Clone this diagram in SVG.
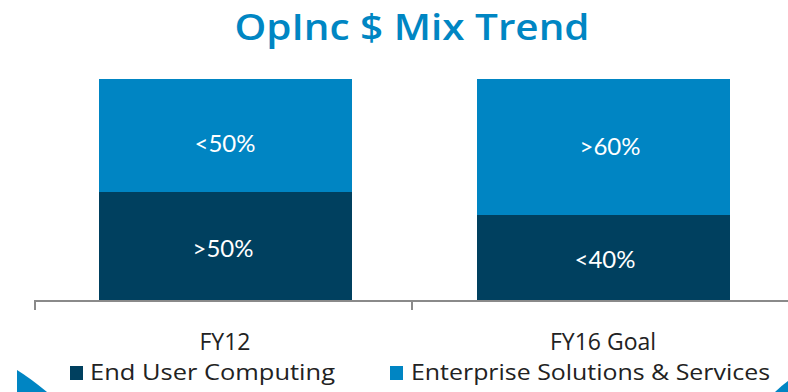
<svg xmlns="http://www.w3.org/2000/svg" width="788" height="392" viewBox="0 0 788 392">
<style>
.light{fill:#0085C3}
.dark{fill:#00405F}
.val{font-family:Lato,"Open Sans",sans-serif;font-size:24px;fill:#ffffff;text-anchor:middle}
.cat{font-family:"Open Sans",Lato,sans-serif;font-size:23px;fill:#222;text-anchor:middle}
.leg{font-family:"Open Sans",Lato,sans-serif;font-size:21px;fill:#222}
.axis{stroke:#8a8a8a;stroke-width:2;fill:none}
</style>
<rect width="788" height="392" fill="#ffffff"/>
<text x="412" y="40" font-family="'Open Sans',Lato,sans-serif" font-size="36" font-weight="600" fill="#0086C3" text-anchor="middle" textLength="355" lengthAdjust="spacingAndGlyphs">OpInc $ Mix Trend</text>
<g id="bar-fy12">
<rect class="light" x="99" y="79" width="253" height="113"/>
<rect class="dark" x="99" y="192" width="253" height="109"/>
<text class="val" x="225" y="152">&lt;50%</text>
<text class="val" x="223" y="257">&gt;50%</text>
</g>
<g id="bar-fy16">
<rect class="light" x="477" y="79" width="253" height="136"/>
<rect class="dark" x="477" y="215" width="253" height="86"/>
<text class="val" x="610" y="155">&gt;60%</text>
<text class="val" x="605" y="268">&lt;40%</text>
</g>
<g id="axis">
<path class="axis" d="M35,301 H788 M35,300 V310 M412,300 V310"/>
</g>
<g id="labels">
<text class="cat" x="225" y="350">FY12</text>
<text class="cat" x="603" y="350">FY16 Goal</text>
</g>
<g id="legend">
<rect class="dark" x="70" y="366" width="13" height="14"/>
<text class="leg" x="90" y="380" textLength="245" lengthAdjust="spacingAndGlyphs">End User Computing</text>
<rect class="light" x="390" y="366" width="13" height="14"/>
<text class="leg" x="411" y="380" textLength="359" lengthAdjust="spacingAndGlyphs">Enterprise Solutions &amp; Services</text>
</g>
<g id="corners">
<path class="light" d="M17,370 Q30,378 47,392 L17,392 Z"/>
<path class="light" d="M775,392 Q781,386 788,381 L788,392 Z"/>
</g>
</svg>
